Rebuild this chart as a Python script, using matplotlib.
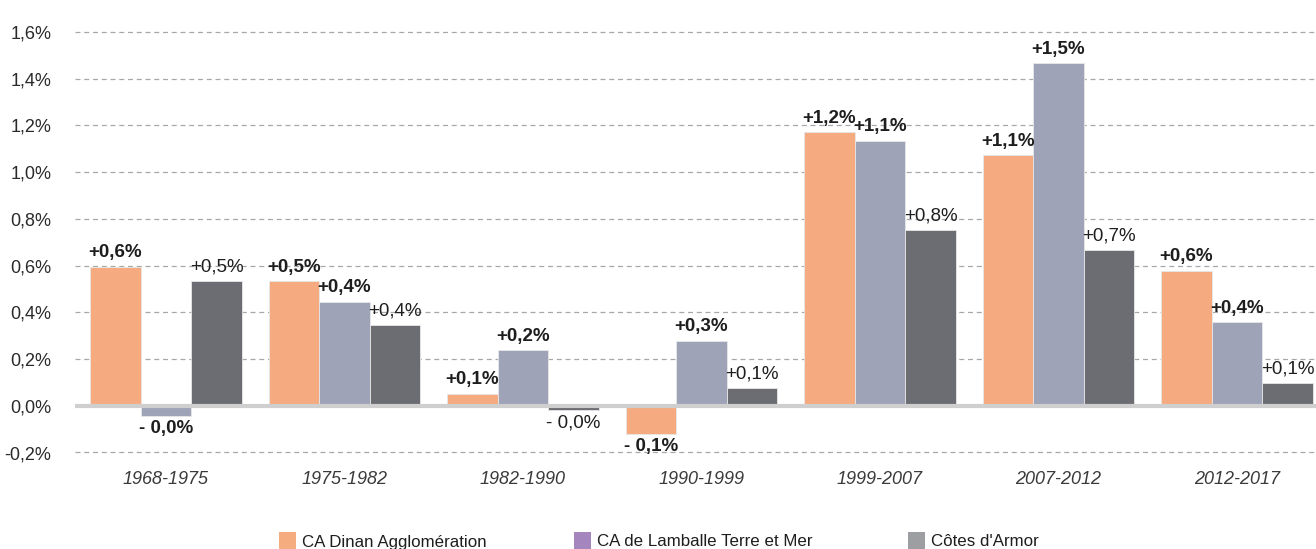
import matplotlib
matplotlib.use("Agg")
import matplotlib.pyplot as plt
import numpy as np
from matplotlib.patches import Rectangle

categories = ["1968-1975", "1975-1982", "1982-1990", "1990-1999", "1999-2007", "2007-2012", "2012-2017"]
series_names = ["CA Dinan Agglomération", "CA de Lamballe Terre et Mer", "Côtes d'Armor"]
dinan = [0.595, 0.533, 0.052, -0.121, 1.170, 1.072, 0.579]
lamballe = [-0.044, 0.446, 0.238, 0.278, 1.134, 1.467, 0.357]
cotes = [0.533, 0.347, -0.019, 0.078, 0.751, 0.665, 0.099]
dinan_lbl = ["+0,6%", "+0,5%", "+0,1%", "- 0,1%", "+1,2%", "+1,1%", "+0,6%"]
lamballe_lbl = ["- 0,0%", "+0,4%", "+0,2%", "+0,3%", "+1,1%", "+1,5%", "+0,4%"]
cotes_lbl = ["+0,5%", "+0,4%", "- 0,0%", "+0,1%", "+0,8%", "+0,7%", "+0,1%"]
yticks = [-0.2, 0.0, 0.2, 0.4, 0.6, 0.8, 1.0, 1.2, 1.4, 1.6]
ytick_labels = ["-0,2%", "0,0%", "0,2%", "0,4%", "0,6%", "0,8%", "1,0%", "1,2%", "1,4%", "1,6%"]

bar_colors = ["#f5aa80", "#9ea3b8", "#6c6d72"]
legend_colors = ["#f5ad80", "#a585bd", "#9c9ea2"]

FAM = ["Liberation Sans", "DejaVu Sans"]
plt.rcParams["font.family"] = FAM

W, H = 1316, 549
fig = plt.figure(figsize=(W / 100, H / 100), dpi=100)
ax = fig.add_axes([75 / W, 1 - 452.5 / H, 1 - 75 / W, (452.5 - 32) / H])

x = np.arange(len(categories))
w = 0.283
series = [dinan, lamballe, cotes]
labels = [dinan_lbl, lamballe_lbl, cotes_lbl]
weights = ["bold", "bold", "normal"]
for i, (vals, lbls) in enumerate(zip(series, labels)):
    pos = x + (i - 1) * w
    bars = ax.bar(pos, vals, width=w, color=bar_colors[i], edgecolor="#e8e8e8",
                  linewidth=0.6, zorder=3)
    for b, v, t in zip(bars, vals, lbls):
        cx = b.get_x() + b.get_width() / 2
        if v >= 0:
            ax.annotate(t, (cx, v), xytext=(0, 4), textcoords="offset points",
                        ha="center", va="bottom", fontsize=13.5, fontweight=weights[i],
                        color="#1e1e1e", zorder=5, annotation_clip=False)
        else:
            ax.annotate(t, (cx, v), xytext=(0, -3), textcoords="offset points",
                        ha="center", va="top", fontsize=13.5, fontweight=weights[i],
                        color="#1e1e1e", zorder=5, annotation_clip=False)

ax.set_xlim(-0.51, 6.443)
ax.set_ylim(-0.2, 1.6)
for yv in yticks:
    if yv == 0:
        continue
    ax.axhline(yv, color="#a8a8a8", linestyle=(0, (4, 3)), linewidth=0.9, zorder=1,
               clip_on=False)
ax.axhline(0, color="#cfcfcf", linewidth=3, zorder=4)

ax.set_yticks(yticks)
ax.set_yticklabels(ytick_labels, fontsize=13, color="#2a2a2a")
ax.set_xticks(x)
ax.set_xticklabels(categories, fontsize=13, style="italic", color="#3a3a3a")
ax.tick_params(axis="y", length=0, pad=17)
ax.tick_params(axis="x", length=0, pad=13)
for s in ax.spines.values():
    s.set_visible(False)

# legend (manual, partly cut by the bottom edge as in the reference)
legend_x = [279, 574, 908]
for name, col, lx in zip(series_names, legend_colors, legend_x):
    fig.patches.append(Rectangle((lx / W, 0), 17 / W, 17 / H, transform=fig.transFigure,
                                 facecolor=col, edgecolor="none"))
    fig.text((lx + 23) / W, 2.5 / H, name, fontsize=12.2, color="#1e1e1e",
             ha="left", va="baseline")

fig.savefig("out.png", dpi=100)
